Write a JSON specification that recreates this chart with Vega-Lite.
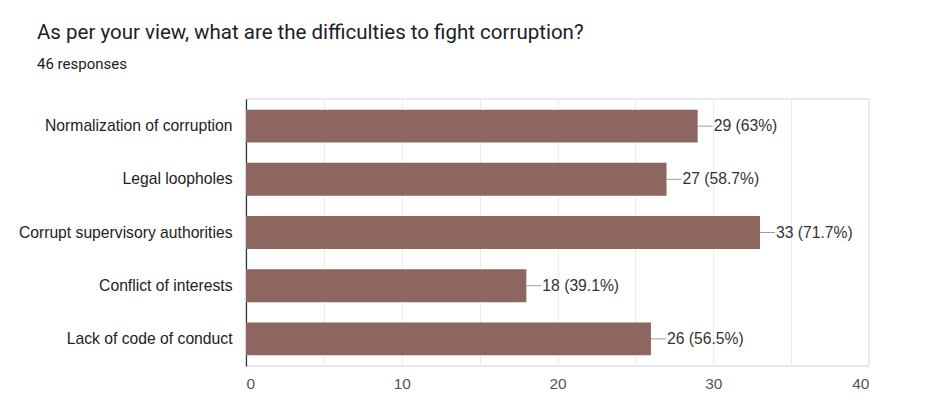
{
  "$schema": "https://vega.github.io/schema/vega-lite/v6.json",
  "width": 623,
  "height": 267,
  "autosize": {"type": "none"},
  "padding": {"left": 246, "top": 99, "right": 58, "bottom": 49},
  "background": "white",
  "title": {
    "text": "As per your view, what are the difficulties to fight corruption?",
    "subtitle": "46 responses",
    "anchor": "start",
    "frame": "group",
    "dx": -209,
    "offset": 27,
    "font": "Roboto",
    "fontSize": 20.5,
    "fontWeight": "normal",
    "color": "#202124",
    "subtitleFont": "Roboto",
    "subtitleFontSize": 15,
    "subtitleColor": "#202124",
    "subtitlePadding": 14
  },
  "config": {
    "view": {"stroke": "#e4e4e4", "strokeWidth": 1.5}
  },
  "data": {
    "values": [
      {"option": "Normalization of corruption", "count": 29, "label": "29 (63%)"},
      {"option": "Legal loopholes", "count": 27, "label": "27 (58.7%)"},
      {"option": "Corrupt supervisory authorities", "count": 33, "label": "33 (71.7%)"},
      {"option": "Conflict of interests", "count": 18, "label": "18 (39.1%)"},
      {"option": "Lack of code of conduct", "count": 26, "label": "26 (56.5%)"}
    ]
  },
  "encoding": {
    "y": {
      "field": "option",
      "type": "nominal",
      "sort": null,
      "title": null,
      "scale": {"paddingInner": 0.38, "paddingOuter": 0.2},
      "axis": {
        "domain": true,
        "domainColor": "#333333",
        "domainWidth": 1.2,
        "ticks": false,
        "labelPadding": 14,
        "labelFont": "Liberation Sans",
        "labelFontSize": 15.7,
        "labelColor": "#222222",
        "labelLimit": 400
      }
    }
  },
  "layer": [
    {
      "mark": {"type": "bar", "color": "#8e6660"},
      "encoding": {
        "x": {
          "field": "count",
          "type": "quantitative",
          "title": null,
          "scale": {"domain": [0, 40], "nice": false},
          "axis": {
            "values": [0, 5, 10, 15, 20, 25, 30, 35, 40],
            "labelExpr": "datum.value % 10 == 0 ? datum.label : ''",
            "domain": false,
            "ticks": false,
            "grid": true,
            "gridColor": "#ececec",
            "gridWidth": 1,
            "labelPadding": 10,
            "labelFont": "Liberation Sans",
            "labelFontSize": 15.5,
            "labelColor": "#555555"
          }
        }
      }
    },
    {
      "mark": {"type": "rule", "color": "#9e9e9e", "strokeWidth": 1, "x2Offset": 15},
      "encoding": {
        "x": {"field": "count", "type": "quantitative"},
        "x2": {"field": "count"}
      }
    },
    {
      "mark": {"type": "text", "align": "left", "dx": 16, "font": "Liberation Sans", "fontSize": 15.7, "color": "#333333"},
      "encoding": {
        "x": {"field": "count", "type": "quantitative"},
        "text": {"field": "label"}
      }
    }
  ]
}
